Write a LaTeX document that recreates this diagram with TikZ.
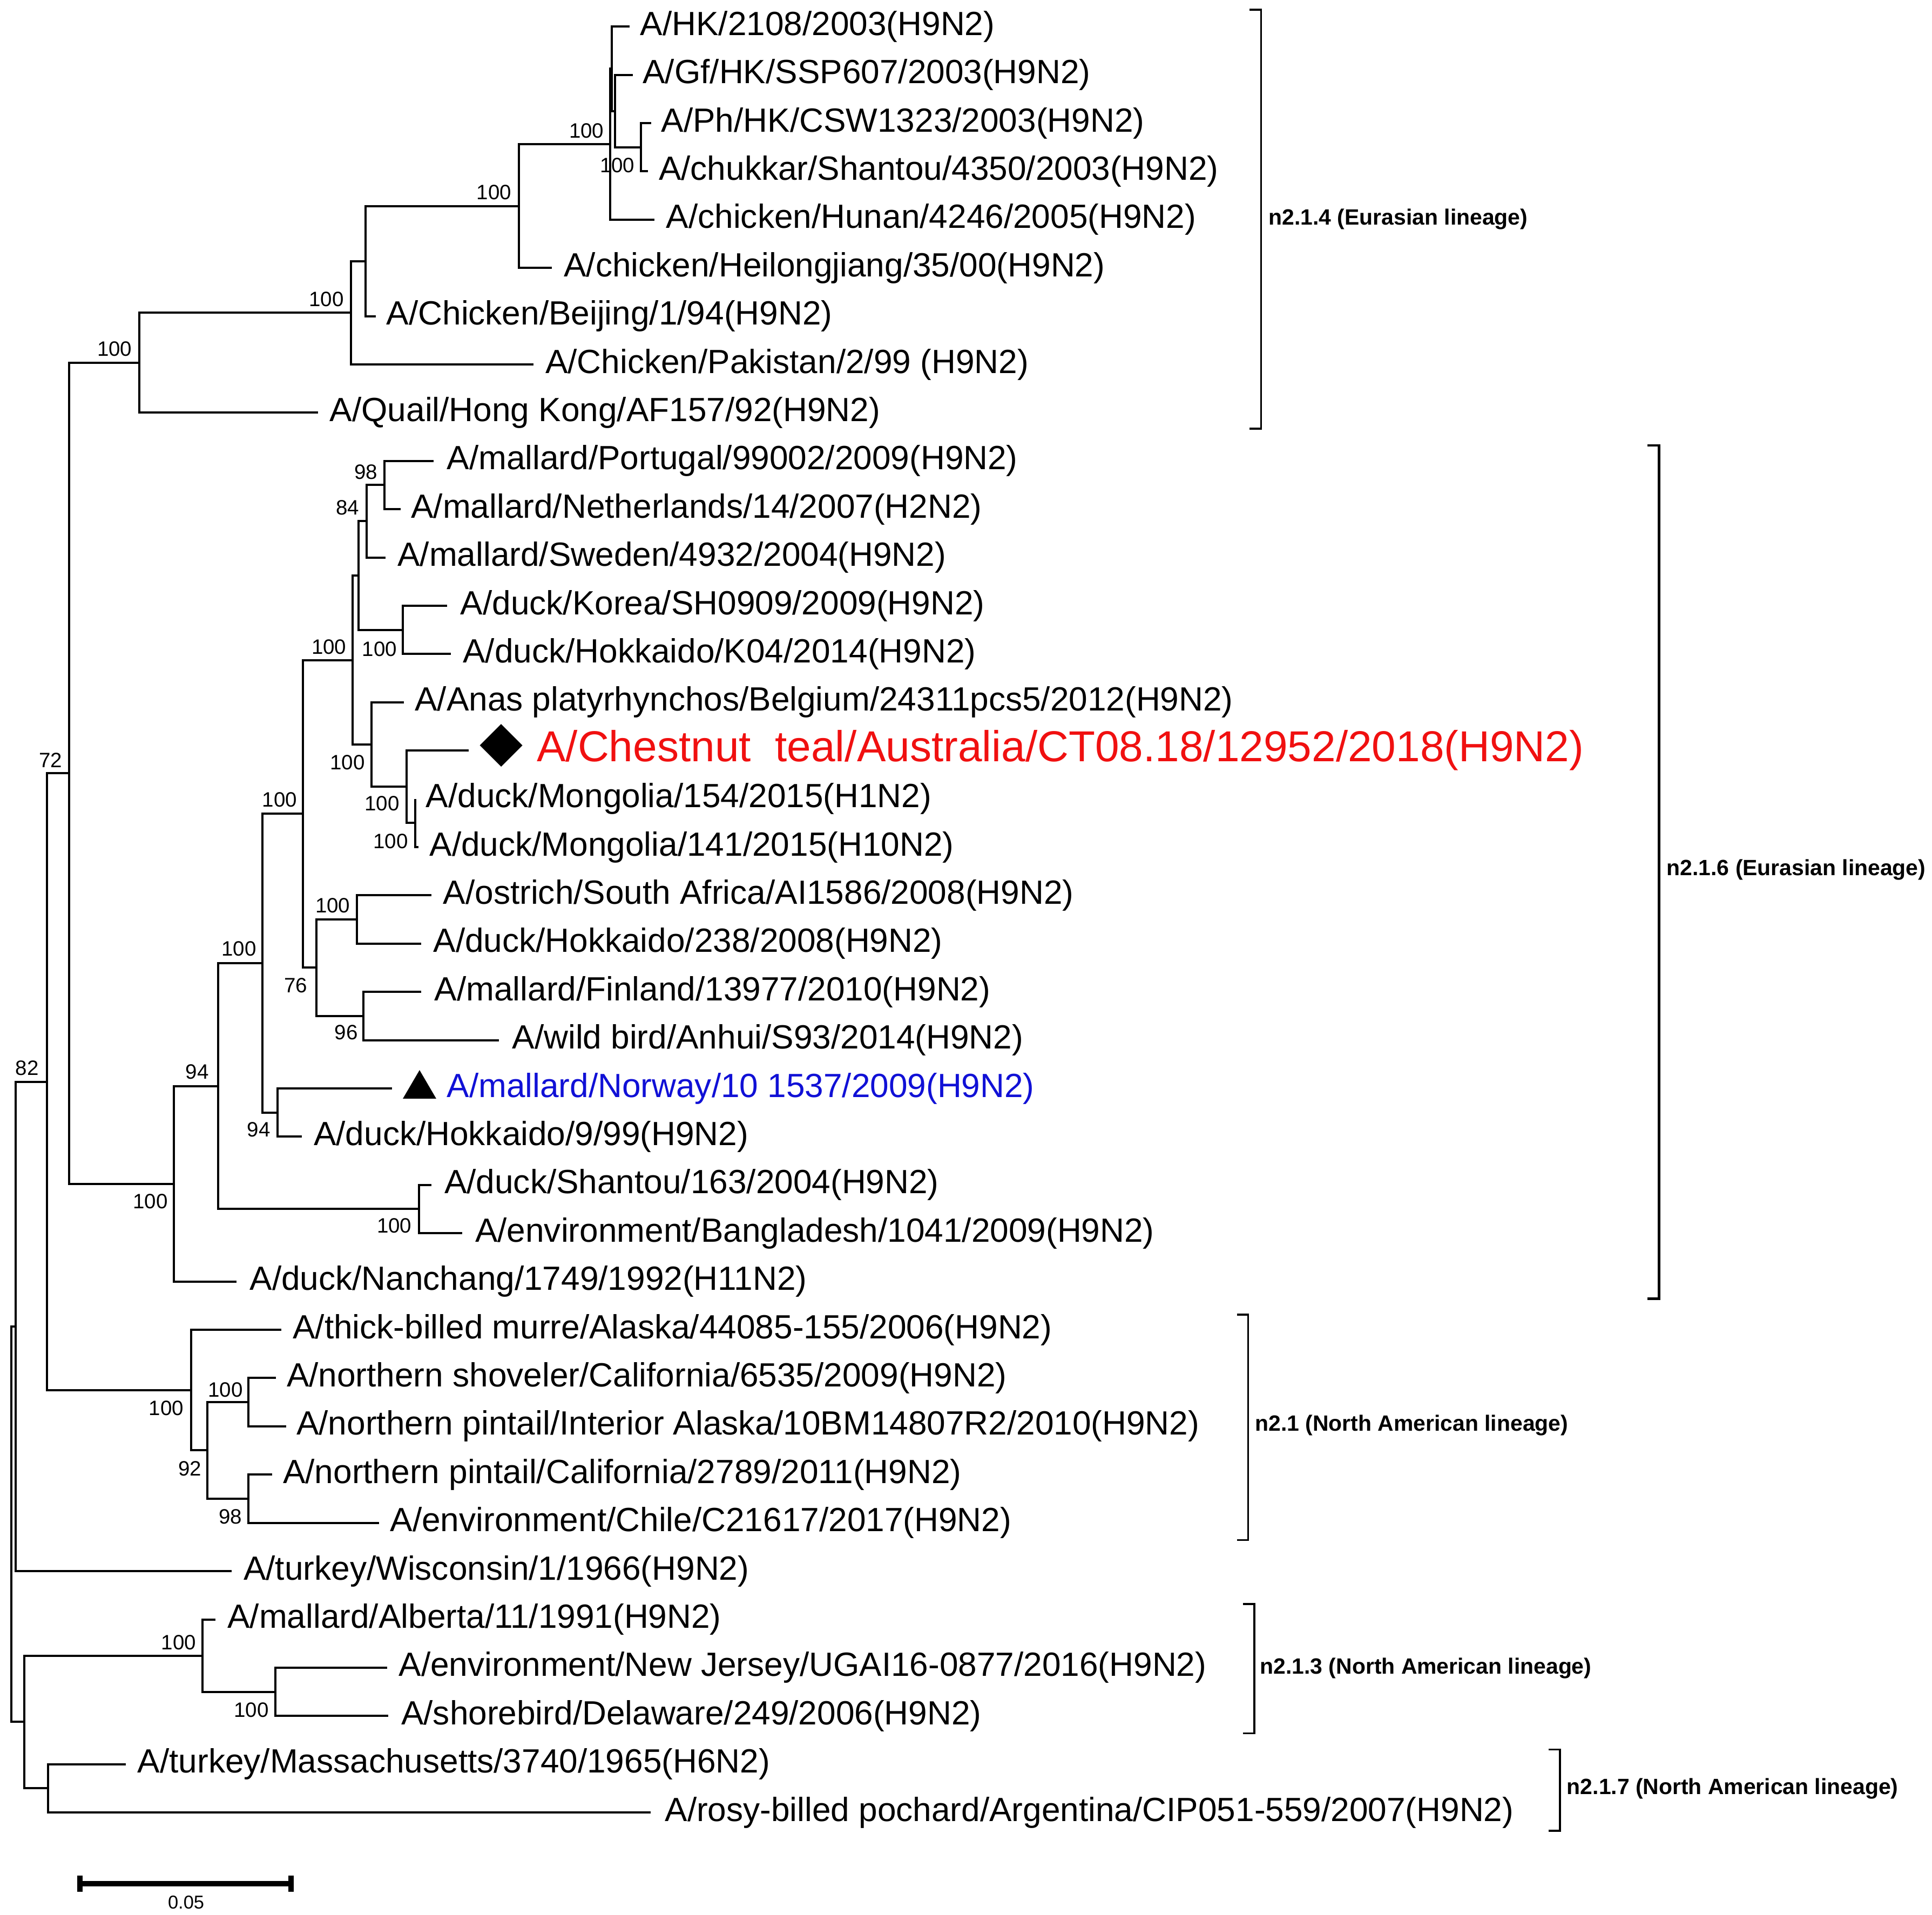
\documentclass[tikz,border=0pt]{standalone}
\usepackage{fontspec}
\setmainfont{Liberation Sans}
\usetikzlibrary{arrows.meta}
\definecolor{tealred}{RGB}{240,16,16}
\definecolor{norblue}{RGB}{16,16,214}

\begin{document}
\begin{tikzpicture}[x=0.1mm, y=-0.1mm,
  br/.style={line width=0.5pt},
  brk/.style={line width=0.45pt},
  leaf/.style={anchor=west, inner sep=0pt, font=\fontsize{7.75}{9}\selectfont},
  boot/.style={inner sep=0pt, font=\fontsize{4.8}{6}\selectfont},
  clade/.style={anchor=west, inner sep=0pt, font=\bfseries\fontsize{5.1}{6}\selectfont}]
\useasboundingbox (0,0) rectangle (1568,1554);

% internal nodes
\coordinate (root) at (9.4,1237.2);
\coordinate (n82) at (12.7,1076.65);
\coordinate (n72) at (38,878);
\coordinate (nX) at (56,627.65);
\coordinate (nE1) at (113,294.4);
\coordinate (nE2) at (285,253.85);
\coordinate (nE3) at (296.6,211.9);
\coordinate (nE4) at (421,167.2);
\coordinate (nE5) at (495.2,117);
\coordinate (nE5a) at (496.6,55.8);
\coordinate (nE5b) at (499.3,90.1);
\coordinate (nE6) at (520,119.45);
\coordinate (nF) at (141,960.9);
\coordinate (nG) at (177,881.6);
\coordinate (nH) at (212.8,781.8);
\coordinate (nI) at (246,660.6);
\coordinate (nK) at (286,535.75);
\coordinate (nP) at (291,467.2);
\coordinate (nR) at (297.6,423.1);
\coordinate (nT) at (312.2,393.7);
\coordinate (nS) at (327,511.25);
\coordinate (nQ) at (301.4,604.3);
\coordinate (nU) at (330.1,638.6);
\coordinate (nV) at (337.1,668);
\coordinate (nL) at (256.6,785.5);
\coordinate (nM) at (289.5,746.3);
\coordinate (nN) at (295.1,824.7);
\coordinate (nJ) at (225.2,903.05);
\coordinate (nSB) at (340,981.4);
\coordinate (nW) at (155,1128.35);
\coordinate (nY) at (168.2,1177.3);
\coordinate (nZ1) at (201.5,1138.1);
\coordinate (nZ2) at (201.5,1216.5);
\coordinate (nB) at (19.6,1397.7);
\coordinate (nAl) at (164.3,1343.85);
\coordinate (nNJ) at (223.4,1373.2);
\coordinate (nTM) at (39.1,1451.6);

% leaves
\coordinate (t1) at (511,21.5);     \node[leaf] (l1) at (519,21.5) {A/HK/2108/2003(H9N2)};
\coordinate (t2) at (513.4,60.7);   \node[leaf] (l2) at (521,60.7) {A/Gf/HK/SSP607/2003(H9N2)};
\coordinate (t3) at (528.5,99.9);   \node[leaf] (l3) at (536,99.9) {A/Ph/HK/CSW1323/2003(H9N2)};
\coordinate (t4) at (526,139);      \node[leaf] (l4) at (534,139) {A/chukkar/Shantou/4350/2003(H9N2)};
\coordinate (t5) at (531,178.2);    \node[leaf] (l5) at (540,178.2) {A/chicken/Hunan/4246/2005(H9N2)};
\coordinate (t6) at (448,217.4);    \node[leaf] (l6) at (457,217.4) {A/chicken/Heilongjiang/35/00(H9N2)};
\coordinate (t7) at (305,256.6);    \node[leaf] (l7) at (313,256.6) {A/Chicken/Beijing/1/94(H9N2)};
\coordinate (t8) at (433,295.8);    \node[leaf] (l8) at (442,295.8) {A/Chicken/Pakistan/2/99 (H9N2)};
\coordinate (t9) at (258,334.9);    \node[leaf] (l9) at (267,334.9) {A/Quail/Hong Kong/AF157/92(H9N2)};
\coordinate (t10) at (352,374.1);   \node[leaf] (l10) at (362,374.1) {A/mallard/Portugal/99002/2009(H9N2)};
\coordinate (t11) at (325,413.3);   \node[leaf] (l11) at (333,413.3) {A/mallard/Netherlands/14/2007(H2N2)};
\coordinate (t12) at (313,452.5);   \node[leaf] (l12) at (322,452.5) {A/mallard/Sweden/4932/2004(H9N2)};
\coordinate (t13) at (363,491.7);   \node[leaf] (l13) at (373,491.7) {A/duck/Korea/SH0909/2009(H9N2)};
\coordinate (t14) at (366,530.8);   \node[leaf] (l14) at (375,530.8) {A/duck/Hokkaido/K04/2014(H9N2)};
\coordinate (t15) at (328,570);     \node[leaf] (l15) at (336,570) {A/Anas platyrhynchos/Belgium/24311pcs5/2012(H9N2)};
\coordinate (t16) at (380.5,609.2); \node[leaf, font=\fontsize{10}{12}\selectfont, text=tealred] (l16) at (435,609.2) {A/Chestnut\ \ teal/Australia/CT08.18/12952/2018(H9N2)};
\coordinate (t17) at (337.1,648.4); \node[leaf] (l17) at (345,648.4) {A/duck/Mongolia/154/2015(H1N2)};
\coordinate (t18) at (339.6,687.6); \node[leaf] (l18) at (348,687.6) {A/duck/Mongolia/141/2015(H10N2)};
\coordinate (t19) at (350,726.7);   \node[leaf] (l19) at (359,726.7) {A/ostrich/South Africa/AI1586/2008(H9N2)};
\coordinate (t20) at (342,765.9);   \node[leaf] (l20) at (351,765.9) {A/duck/Hokkaido/238/2008(H9N2)};
\coordinate (t21) at (342,805.1);   \node[leaf] (l21) at (352,805.1) {A/mallard/Finland/13977/2010(H9N2)};
\coordinate (t22) at (405,844.3);   \node[leaf] (l22) at (415,844.3) {A/wild bird/Anhui/S93/2014(H9N2)};
\coordinate (t23) at (318,883.5);   \node[leaf, text=norblue] (l23) at (362,883.5) {A/mallard/Norway/10 1537/2009(H9N2)};
\coordinate (t24) at (245,922.6);   \node[leaf] (l24) at (254,922.6) {A/duck/Hokkaido/9/99(H9N2)};
\coordinate (t25) at (350,961.8);   \node[leaf] (l25) at (360,961.8) {A/duck/Shantou/163/2004(H9N2)};
\coordinate (t26) at (375,1001);    \node[leaf] (l26) at (385,1001) {A/environment/Bangladesh/1041/2009(H9N2)};
\coordinate (t27) at (192,1040.2);  \node[leaf] (l27) at (202,1040.2) {A/duck/Nanchang/1749/1992(H11N2)};
\coordinate (t28) at (228.5,1079.4);\node[leaf] (l28) at (237,1079.4) {A/thick-billed murre/Alaska/44085-155/2006(H9N2)};
\coordinate (t29) at (224,1118.5);  \node[leaf] (l29) at (232,1118.5) {A/northern shoveler/California/6535/2009(H9N2)};
\coordinate (t30) at (232.4,1157.7);\node[leaf] (l30) at (240,1157.7) {A/northern pintail/Interior Alaska/10BM14807R2/2010(H9N2)};
\coordinate (t31) at (220.9,1196.9);\node[leaf] (l31) at (229,1196.9) {A/northern pintail/California/2789/2011(H9N2)};
\coordinate (t32) at (307.5,1236.1);\node[leaf] (l32) at (316,1236.1) {A/environment/Chile/C21617/2017(H9N2)};
\coordinate (t33) at (188,1275.3);  \node[leaf] (l33) at (197,1275.3) {A/turkey/Wisconsin/1/1966(H9N2)};
\coordinate (t34) at (175,1314.5);  \node[leaf] (l34) at (184,1314.5) {A/mallard/Alberta/11/1991(H9N2)};
\coordinate (t35) at (314,1353.6);  \node[leaf] (l35) at (323,1353.6) {A/environment/New Jersey/UGAI16-0877/2016(H9N2)};
\coordinate (t36) at (315,1392.8);  \node[leaf] (l36) at (325,1392.8) {A/shorebird/Delaware/249/2006(H9N2)};
\coordinate (t37) at (102,1432);    \node[leaf] (l37) at (111,1432) {A/turkey/Massachusetts/3740/1965(H6N2)};
\coordinate (t38) at (528,1471.2);  \node[leaf] (l38) at (539,1471.2) {A/rosy-billed pochard/Argentina/CIP051-559/2007(H9N2)};

% branches
\draw[br] (n82) -| (root) |- (nB);
\draw[br] (n72) -| (n82) |- (t33);
\draw[br] (nX) -| (n72) |- (nW);
\draw[br] (nE1) -| (nX) |- (nF);
\draw[br] (nE2) -| (nE1) |- (t9);
\draw[br] (nE3) -| (nE2) |- (t8);
\draw[br] (nE4) -| (nE3) |- (t7);
\draw[br] (nE5) -| (nE4) |- (t6);
\draw[br] (nE5a) -| (nE5) |- (t5);
\draw[br] (t1) -| (nE5a) |- (nE5b);
\draw[br] (t2) -| (nE5b) |- (nE6);
\draw[br] (t3) -| (nE6) |- (t4);
\draw[br] (nG) -| (nF) |- (t27);
\draw[br] (nH) -| (nG) |- (nSB);
\draw[br] (t25) -| (nSB) |- (t26);
\draw[br] (nI) -| (nH) |- (nJ);
\draw[br] (t23) -| (nJ) |- (t24);
\draw[br] (nK) -| (nI) |- (nL);
\draw[br] (nM) -| (nL) |- (nN);
\draw[br] (t19) -| (nM) |- (t20);
\draw[br] (t21) -| (nN) |- (t22);
\draw[br] (nP) -| (nK) |- (nQ);
\draw[br] (nR) -| (nP) |- (nS);
\draw[br] (nT) -| (nR) |- (t12);
\draw[br] (t10) -| (nT) |- (t11);
\draw[br] (t13) -| (nS) |- (t14);
\draw[br] (t15) -| (nQ) |- (nU);
\draw[br] (t16) -| (nU) |- (nV);
\draw[br] (t17) -| (nV) |- (t18);
\draw[br] (t28) -| (nW) |- (nY);
\draw[br] (nZ1) -| (nY) |- (nZ2);
\draw[br] (t29) -| (nZ1) |- (t30);
\draw[br] (t31) -| (nZ2) |- (t32);
\draw[br] (nAl) -| (nB) |- (nTM);
\draw[br] (t34) -| (nAl) |- (nNJ);
\draw[br] (t35) -| (nNJ) |- (t36);
\draw[br] (t37) -| (nTM) |- (t38);

% markers
\fill (389.4,605) -- (406.7,587.7) -- (424,605) -- (406.7,622.3) -- cycle;
\fill (327,891.7) -- (340.5,868.6) -- (354,891.7) -- cycle;

% bootstrap values
\node[boot] (b82) at (22,867) {82};
\node[boot] (b72) at (41,617) {72};
\node[boot] (bE1) at (93,283) {100};
\node[boot] (bE2) at (265,243) {100};
\node[boot] (bE4) at (401,156) {100};
\node[boot] (bE5) at (476,106) {100};
\node[boot] (bE6) at (501,134) {100};
\node[boot] (bT) at (297,383) {98};
\node[boot] (bR) at (282,412) {84};
\node[boot] (bK) at (267,525) {100};
\node[boot] (bS) at (308,527) {100};
\node[boot] (bQ) at (282,619) {100};
\node[boot] (bU) at (310,652) {100};
\node[boot] (bV) at (317,683) {100};
\node[boot] (bI) at (227,649) {100};
\node[boot] (bM) at (270,735) {100};
\node[boot] (bL) at (240,800) {76};
\node[boot] (bN) at (281,838) {96};
\node[boot] (bH) at (194,770) {100};
\node[boot] (bJ) at (210,917) {94};
\node[boot] (bG) at (160,870) {94};
\node[boot] (bF) at (122,975) {100};
\node[boot] (bSB) at (320,995) {100};
\node[boot] (bW) at (135,1143) {100};
\node[boot] (bZ1) at (183,1128) {100};
\node[boot] (bY) at (154,1192) {92};
\node[boot] (bZ2) at (187,1231) {98};
\node[boot] (bAl) at (145,1333) {100};
\node[boot] (bNJ) at (204,1388) {100};

% lineage brackets
\draw[brk] (1014,8) -- (1023.5,8) -- (1023.5,348) -- (1014,348);
\node[clade] (c1) at (1029,178) {n2.1.4 (Eurasian lineage)};
\draw[brk, line width=0.6pt] (1337,361.5) -- (1346.3,361.5) -- (1346.3,1054) -- (1337,1054);
\node[clade] (c2) at (1352,706) {n2.1.6 (Eurasian lineage)};
\draw[brk] (1004,1067) -- (1013,1067) -- (1013,1250) -- (1004,1250);
\node[clade] (c3) at (1018,1157) {n2.1 (North American lineage)};
\draw[brk] (1009,1302) -- (1018,1302) -- (1018,1407) -- (1009,1407);
\node[clade] (c4) at (1022,1354) {n2.1.3 (North American lineage)};
\draw[brk] (1257,1420) -- (1266,1420) -- (1266,1486) -- (1257,1486);
\node[clade] (c5) at (1271,1452) {n2.1.7 (North American lineage)};

% scale bar
\coordinate (s0) at (62.5,1529);
\coordinate (s1) at (238.4,1529);
\draw[line width=1.3pt, {Bar[width=1.3mm]}-{Bar[width=1.3mm]}] (s0) -- (s1);
\node[boot, font=\fontsize{4.3}{5}\selectfont] (sl) at (151,1544) {0.05};
\end{tikzpicture}
\end{document}
